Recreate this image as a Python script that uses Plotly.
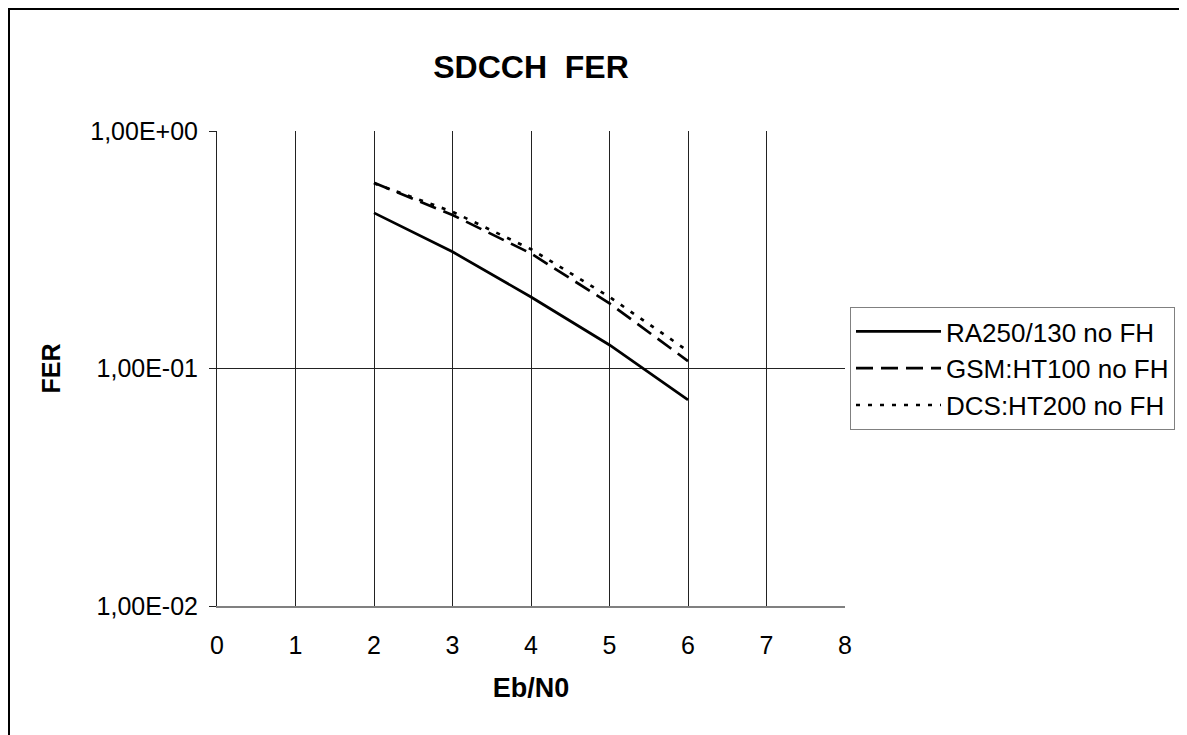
import plotly.graph_objects as go

# ---- data ----
eb_n0 = [2, 3, 4, 5, 6]
ra250_fer = [0.452, 0.310, 0.200, 0.1256, 0.0737]
gsm_ht100_fer = [0.606, 0.443, 0.305, 0.188, 0.1075]
dcs_ht200_fer = [0.602, 0.457, 0.318, 0.200, 0.1185]

series_names = ["RA250/130 no FH", "GSM:HT100 no FH", "DCS:HT200 no FH"]
x_ticks = [0, 1, 2, 3, 4, 5, 6, 7, 8]
y_tickvals = [0.01, 0.1, 1]
y_ticktext = ["1,00E-02", "1,00E-01", "1,00E+00"]

FONT = "Liberation Sans, Arial, sans-serif"
W, H = 1187, 735
OFF = 8  # page body margin offset
L, R, T, B = 217 - OFF, 845 - OFF, 131 - OFF, 606 - OFF

fig = go.Figure()
fig.add_trace(go.Scatter(x=eb_n0, y=ra250_fer, mode="lines", name=series_names[0],
                         line=dict(color="black", width=2.7)))
fig.add_trace(go.Scatter(x=eb_n0, y=gsm_ht100_fer, mode="lines", name=series_names[1],
                         line=dict(color="black", width=2.7, dash="17px,8px")))
fig.add_trace(go.Scatter(x=eb_n0, y=dcs_ht200_fer, mode="lines", name=series_names[2],
                         line=dict(color="black", width=2.7, dash="4px,8px")))

pw = R - L
ph = B - T
def px_to_paper_x(px):
    return (px - OFF - L) / pw
def px_to_paper_y(py):
    return (B - (py - OFF)) / ph

fig.update_layout(
    width=W, height=H,
    margin=dict(l=L, r=W - R, t=T, b=H - B, autoexpand=False),
    paper_bgcolor="white", plot_bgcolor="white",
    font=dict(family=FONT, size=25, color="black"),
    title=dict(text="<b>SDCCH  FER</b>", x=0.5, xref="paper", xanchor="center",
               y=1 - (67 - OFF) / H, yref="container", yanchor="middle",
               font=dict(family=FONT, size=32, color="black")),
    showlegend=True,
    legend=dict(x=px_to_paper_x(850), y=px_to_paper_y(307), xanchor="left", yanchor="top",
                bordercolor="#808080", borderwidth=1, bgcolor="white",
                font=dict(family=FONT, size=26, color="black"),
                itemwidth=85, tracegroupgap=0),
    xaxis=dict(range=[0, 8], tickvals=x_ticks, showgrid=True, gridcolor="#222222", gridwidth=1,
               showline=True, linecolor="#808080", linewidth=2, zeroline=False,
               ticks="", ticklabelstandoff=16,
               title=dict(text="<b>Eb/N0</b>", font=dict(family=FONT, size=27), standoff=20)),
    yaxis=dict(type="log", range=[-2, 0], tickvals=y_tickvals, ticktext=y_ticktext,
               showgrid=True, gridcolor="#222222", gridwidth=1,
               showline=True, linecolor="#222222", linewidth=1, zeroline=False,
               ticks="outside", ticklen=7, tickcolor="#222222", ticklabelstandoff=6,
               title=dict(text="<b>FER</b>", font=dict(family=FONT, size=25), standoff=22)),
    shapes=[
        dict(type="path", xref="paper", yref="paper",
             path="M {x0},{yb} L {x0},{yt} L {xr},{yt}".format(
                 x0=px_to_paper_x(8.5), yb=px_to_paper_y(760), yt=px_to_paper_y(8.5),
                 xr=px_to_paper_x(1210)),
             line=dict(color="black", width=3)),
    ],
)

fig.write_html("out.html")
